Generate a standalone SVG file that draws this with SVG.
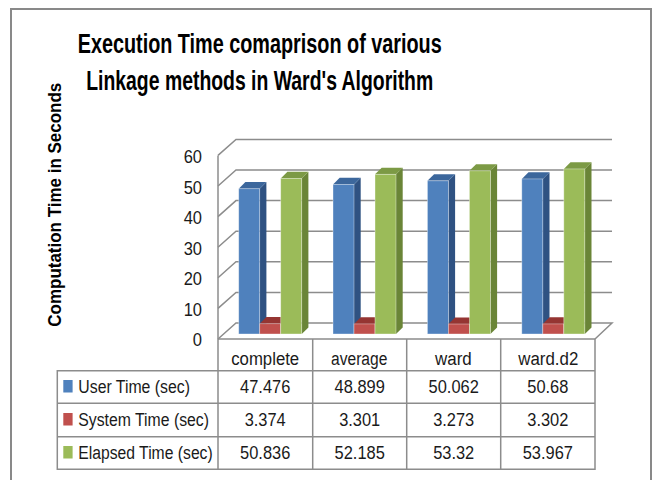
<svg xmlns="http://www.w3.org/2000/svg" width="654" height="480" viewBox="0 0 654 480">
<style>
.frame{fill:none;stroke:#898989;stroke-width:2}
.grid{fill:none;stroke:#8c8c8c;stroke-width:1.5}
.tbl{fill:none;stroke:#8c8c8c;stroke-width:1.5}
.title{font-family:"Liberation Sans",Arial,sans-serif;font-weight:bold;font-size:27.5px;fill:#000;text-anchor:middle}
.ytitle{font-family:"Liberation Sans",Arial,sans-serif;font-weight:bold;font-size:17.5px;fill:#000;text-anchor:middle}
.tick{font-family:"Liberation Sans",Arial,sans-serif;font-size:18px;fill:#1a1a1a;text-anchor:end}
.cell{font-family:"Liberation Sans",Arial,sans-serif;font-size:18px;fill:#1a1a1a;text-anchor:middle}
.lab{font-family:"Liberation Sans",Arial,sans-serif;font-size:18px;fill:#1a1a1a}
.bf{fill:#4f81bd}.bs{fill:#2f5282}.bt{fill:#3c679c}
.rf{fill:#c0504d}.rs{fill:#8c302d}.rt{fill:#953532}
.gf{fill:#9bbb59}.gs{fill:#6a8537}.gt{fill:#7c9a45}
.edge{stroke:#ffffff;stroke-opacity:0.45;stroke-width:0.8}
</style>
<rect width="654" height="480" fill="#ffffff"/>
<path class="frame" d="M11,482 V9 H651 V482"/>
<g id="title">
<text class="title" x="259.7" y="53.3" textLength="364" lengthAdjust="spacingAndGlyphs">Execution Time comaprison of various</text>
<text class="title" x="259.7" y="90" textLength="347" lengthAdjust="spacingAndGlyphs">Linkage methods in Ward's Algorithm</text>
</g>
<g id="y-axis-title">
<text class="ytitle" transform="translate(61,204.7) rotate(-90)" textLength="244" lengthAdjust="spacingAndGlyphs">Computation Time in Seconds</text>
</g>
<g id="walls">
<polyline class="grid" points="218,339 236,323 612,323 595,339"/>
<polyline class="grid" points="218,308.4 236,292.4 612,292.4"/>
<polyline class="grid" points="218,277.8 236,261.8 612,261.8"/>
<polyline class="grid" points="218,247.2 236,231.2 612,231.2"/>
<polyline class="grid" points="218,216.6 236,200.6 612,200.6"/>
<polyline class="grid" points="218,186 236,170 612,170"/>
<polyline class="grid" points="218,155.4 236,139.4 612,139.4"/>
<line class="grid" x1="218" y1="155.4" x2="218" y2="339"/>
</g>
<g id="y-ticks">
<text class="tick" x="202" y="163" textLength="18.3" lengthAdjust="spacingAndGlyphs">60</text>
<text class="tick" x="202" y="193.6" textLength="18.3" lengthAdjust="spacingAndGlyphs">50</text>
<text class="tick" x="202" y="224.2" textLength="18.3" lengthAdjust="spacingAndGlyphs">40</text>
<text class="tick" x="202" y="254.8" textLength="18.3" lengthAdjust="spacingAndGlyphs">30</text>
<text class="tick" x="202" y="285.4" textLength="18.3" lengthAdjust="spacingAndGlyphs">20</text>
<text class="tick" x="202" y="316" textLength="18.3" lengthAdjust="spacingAndGlyphs">10</text>
<text class="tick" x="202" y="345.5" textLength="9.2" lengthAdjust="spacingAndGlyphs">0</text>
</g>
<g id="bars-complete">
<polygon class="bs" points="259.7,188.7 266.4,182.1 266.4,327.4 259.7,334"/>
<polygon class="bt" points="238.7,188.7 245.4,182.1 266.4,182.1 259.7,188.7"/>
<rect class="bf edge" x="238.7" y="188.7" width="21" height="145.3"/>
<polygon class="rt" points="259.7,323.7 266.4,317.1 287.4,317.1 280.7,323.7"/>
<rect class="rf edge" x="259.7" y="323.7" width="21" height="10.3"/>
<polygon class="gs" points="301.7,178.4 308.4,171.8 308.4,327.4 301.7,334"/>
<polygon class="gt" points="280.7,178.4 287.4,171.8 308.4,171.8 301.7,178.4"/>
<rect class="gf edge" x="280.7" y="178.4" width="21" height="155.6"/>
</g>
<g id="bars-average">
<polygon class="bs" points="354,184.4 360.7,177.8 360.7,327.4 354,334"/>
<polygon class="bt" points="333,184.4 339.7,177.8 360.7,177.8 354,184.4"/>
<rect class="bf edge" x="333" y="184.4" width="21" height="149.6"/>
<polygon class="rt" points="354,323.9 360.7,317.3 381.7,317.3 375,323.9"/>
<rect class="rf edge" x="354" y="323.9" width="21" height="10.1"/>
<polygon class="gs" points="396,174.3 402.7,167.7 402.7,327.4 396,334"/>
<polygon class="gt" points="375,174.3 381.7,167.7 402.7,167.7 396,174.3"/>
<rect class="gf edge" x="375" y="174.3" width="21" height="159.7"/>
</g>
<g id="bars-ward">
<polygon class="bs" points="448.4,180.8 455.1,174.2 455.1,327.4 448.4,334"/>
<polygon class="bt" points="427.4,180.8 434.1,174.2 455.1,174.2 448.4,180.8"/>
<rect class="bf edge" x="427.4" y="180.8" width="21" height="153.2"/>
<polygon class="rt" points="448.4,324 455.1,317.4 476.1,317.4 469.4,324"/>
<rect class="rf edge" x="448.4" y="324" width="21" height="10"/>
<polygon class="gs" points="490.4,170.8 497.1,164.2 497.1,327.4 490.4,334"/>
<polygon class="gt" points="469.4,170.8 476.1,164.2 497.1,164.2 490.4,170.8"/>
<rect class="gf edge" x="469.4" y="170.8" width="21" height="163.2"/>
</g>
<g id="bars-ward-d2">
<polygon class="bs" points="542.8,178.9 549.5,172.3 549.5,327.4 542.8,334"/>
<polygon class="bt" points="521.8,178.9 528.5,172.3 549.5,172.3 542.8,178.9"/>
<rect class="bf edge" x="521.8" y="178.9" width="21" height="155.1"/>
<polygon class="rt" points="542.8,323.9 549.5,317.3 570.5,317.3 563.8,323.9"/>
<rect class="rf edge" x="542.8" y="323.9" width="21" height="10.1"/>
<polygon class="gs" points="584.8,168.9 591.5,162.3 591.5,327.4 584.8,334"/>
<polygon class="gt" points="563.8,168.9 570.5,162.3 591.5,162.3 584.8,168.9"/>
<rect class="gf edge" x="563.8" y="168.9" width="21" height="165.1"/>
</g>
<g id="data-table">
<path class="tbl" d="M218,339 H595 V469.3 H57.3 V370.7 H595 M57.3,403.3 H595 M57.3,436.7 H595 M218,339 V469.3 M312.7,339 V469.3 M406.7,339 V469.3 M500.7,339 V469.3"/>
<text class="cell" x="265.2" y="365" textLength="68" lengthAdjust="spacingAndGlyphs">complete</text>
<text class="cell" x="359.2" y="365" textLength="56.3" lengthAdjust="spacingAndGlyphs">average</text>
<text class="cell" x="453.4" y="365" textLength="36.7" lengthAdjust="spacingAndGlyphs">ward</text>
<text class="cell" x="548.3" y="365" textLength="60" lengthAdjust="spacingAndGlyphs">ward.d2</text>
<rect class="bf" x="63.3" y="380" width="9.3" height="12.5"/>
<text class="lab" x="78.3" y="393.3" textLength="111.7" lengthAdjust="spacingAndGlyphs">User Time (sec)</text>
<rect class="rf" x="63.3" y="413" width="9.3" height="12.5"/>
<text class="lab" x="78.3" y="426" textLength="130.7" lengthAdjust="spacingAndGlyphs">System Time (sec)</text>
<rect class="gf" x="63.3" y="446" width="9.3" height="12.5"/>
<text class="lab" x="78.3" y="459" textLength="134.4" lengthAdjust="spacingAndGlyphs">Elapsed Time (sec)</text>
<text class="cell" x="265.2" y="393.3" textLength="50.2" lengthAdjust="spacingAndGlyphs">47.476</text>
<text class="cell" x="359.7" y="393.3" textLength="50.2" lengthAdjust="spacingAndGlyphs">48.899</text>
<text class="cell" x="453.7" y="393.3" textLength="50.2" lengthAdjust="spacingAndGlyphs">50.062</text>
<text class="cell" x="547.8" y="393.3" textLength="41.1" lengthAdjust="spacingAndGlyphs">50.68</text>
<text class="cell" x="265.2" y="426" textLength="41.1" lengthAdjust="spacingAndGlyphs">3.374</text>
<text class="cell" x="359.7" y="426" textLength="41.1" lengthAdjust="spacingAndGlyphs">3.301</text>
<text class="cell" x="453.7" y="426" textLength="41.1" lengthAdjust="spacingAndGlyphs">3.273</text>
<text class="cell" x="547.8" y="426" textLength="41.1" lengthAdjust="spacingAndGlyphs">3.302</text>
<text class="cell" x="265.2" y="459" textLength="50.2" lengthAdjust="spacingAndGlyphs">50.836</text>
<text class="cell" x="359.7" y="459" textLength="50.2" lengthAdjust="spacingAndGlyphs">52.185</text>
<text class="cell" x="453.7" y="459" textLength="41.1" lengthAdjust="spacingAndGlyphs">53.32</text>
<text class="cell" x="547.8" y="459" textLength="50.2" lengthAdjust="spacingAndGlyphs">53.967</text>
</g>
</svg>
